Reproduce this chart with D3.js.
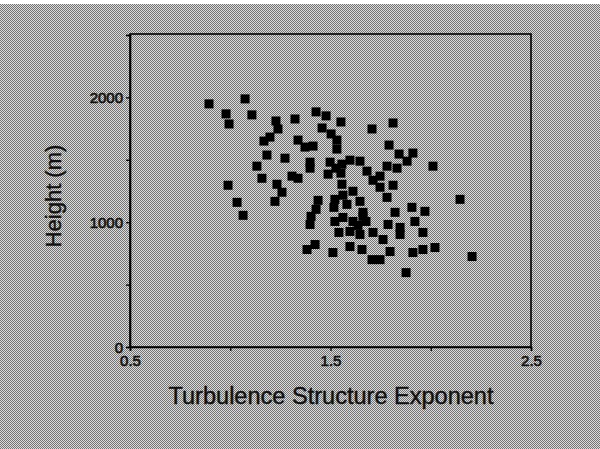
<!DOCTYPE html>
<html><head><meta charset="utf-8">
<script src="https://cdn.jsdelivr.net/npm/d3@7"></script>
<style>html,body{margin:0;padding:0;background:#fff;}svg{display:block;}</style>
</head><body>
<svg id="c" width="600" height="449"></svg>
<script>
// Turbulence structure exponent (x) vs height in m (y)
const exponent = [0.894,1.074,0.979,1.108,0.994,1.228,1.238,1.323,1.428,1.478,1.458,1.503,1.532,1.338,1.198,1.168,1.373,1.413,1.183,1.273,1.398,1.398,1.498,1.527,1.488,1.133,1.158,1.308,1.338,1.233,0.989,1.552,1.532,1.707,1.812,1.792,1.842,1.911,1.882,2.011,1.597,1.647,1.557,1.552,1.682,1.782,1.832,1.747,1.712,1.812,1.557,1.612,1.647,1.582,1.747,1.782,2.146,1.562,1.612,1.662,1.677,1.822,1.906,1.971,1.787,1.847,1.921,1.597,1.647,1.712,1.762,1.847,1.961,1.597,1.657,1.797,1.911,1.961,2.021,1.707,1.747,2.206,1.877,1.438,1.522,1.517,1.428,1.403,1.398,1.522,1.542,1.383,1.423,1.512,1.034,1.064,1.258,1.223,1.562,1.662,1.637];
const heightM = [1948,1988,1868,1860,1787,1811,1747,1827,1884,1852,1755,1707,1658,1658,1682,1650,1602,1610,1538,1513,1481,1433,1481,1433,1385,1449,1352,1369,1352,1304,1296,1803,1586,1747,1795,1618,1546,1554,1489,1449,1497,1489,1465,1393,1409,1449,1433,1369,1336,1296,1304,1248,1167,1143,1280,1199,1183,1038,1006,1047,1006,1079,1119,1087,982,958,1006,926,902,918,861,902,918,805,781,765,757,781,797,700,700,725,596,1175,1183,1119,1103,1047,982,1006,918,781,821,757,1159,1055,1240,1167,1216,1079,974];
const xTicks = [0.5,1.0,1.5,2.0,2.5];
const xTickLabels = ["0.5","","1.5","","2.5"];
const yTicks = [0,500,1000,1500,2000,2500];
const yTickLabels = ["0","","1000","","2000",""];
const xTitle = "Turbulence Structure Exponent";
const yTitle = "Height (m)";

const svg = d3.select("#c");
const W = 600, H = 449;
// halftone-like background
const defs = svg.append("defs");
const pat = defs.append("pattern").attr("id","ht").attr("width",2).attr("height",2).attr("patternUnits","userSpaceOnUse");
pat.append("rect").attr("width",2).attr("height",2).attr("fill","#dcdcdc");
pat.append("rect").attr("x",0).attr("y",0).attr("width",1).attr("height",1).attr("fill","#747474");
pat.append("rect").attr("x",1).attr("y",1).attr("width",1).attr("height",1).attr("fill","#747474");
svg.append("rect").attr("width",W).attr("height",H).attr("fill","url(#ht)");
svg.append("rect").attr("width",W).attr("height",4).attr("fill","#fff");

const x = d3.scaleLinear().domain([0.5,2.5]).range([130,531]);
const y = d3.scaleLinear().domain([0,2500]).range([347,35]);

// frame
svg.append("rect").attr("x",130).attr("y",34).attr("width",401).attr("height",313)
  .attr("fill","none").attr("stroke","#000").attr("stroke-width",1.6);

const font = "'Liberation Sans', Arial, Helvetica, sans-serif";
const xa = svg.append("g").attr("transform","translate(0,347)")
  .call(d3.axisBottom(x).tickValues(xTicks).tickSize(4).tickPadding(4)
    .tickFormat((d,i)=>xTickLabels[i]));
const ya = svg.append("g").attr("transform","translate(130,0)")
  .call(d3.axisLeft(y).tickValues(yTicks).tickSize(4).tickPadding(3)
    .tickFormat((d,i)=>yTickLabels[i]));
[xa,ya].forEach(g=>{
  g.select(".domain").attr("stroke","#000").attr("stroke-width",1.6);
  g.selectAll(".tick line").attr("stroke","#000").attr("stroke-width",1.3);
  g.selectAll(".tick text").attr("fill","#111").attr("font-family",font)
    .attr("font-size",15).attr("stroke","#111").attr("stroke-width",0.6);
});
ya.selectAll(".tick text").attr("dy","0.36em");

svg.append("text").attr("x",331).attr("y",404).attr("text-anchor","middle")
  .attr("font-family",font).attr("font-size",23).attr("fill","#111")
  .attr("stroke","#111").attr("stroke-width",0.4)
  .attr("textLength",325).attr("lengthAdjust","spacingAndGlyphs").text(xTitle);
svg.append("text").attr("transform","translate(61,196) rotate(-90)").attr("text-anchor","middle")
  .attr("font-family",font).attr("font-size",22).attr("fill","#111")
  .attr("stroke","#111").attr("stroke-width",0.4).text(yTitle);

// markers
const s = 9;
svg.append("g").selectAll("rect").data(exponent.map((v,i)=>[v,heightM[i]])).join("rect")
  .attr("x",d=>x(d[0])-s/2).attr("y",d=>y(d[1])-s/2).attr("width",s).attr("height",s)
  .attr("fill","#000");
</script>
</body></html>
